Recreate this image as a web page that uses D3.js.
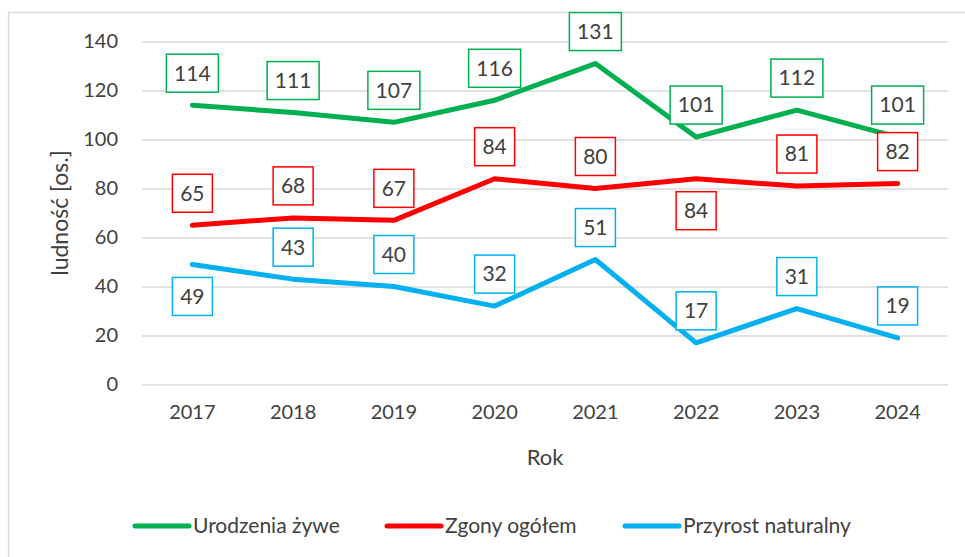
<!DOCTYPE html>
<html lang="pl">
<head>
<meta charset="utf-8">
<script src="https://cdn.jsdelivr.net/npm/d3@7"></script>
<style>
  html, body { margin: 0; padding: 0; background: #fff; }
  #chart { width: 965px; height: 557px; }
  text { font-family: Lato, "Open Sans", sans-serif; fill: #404040; }
</style>
</head>
<body>
<div id="chart"></div>
<script>
// dane
const YEARS = ["2017", "2018", "2019", "2020", "2021", "2022", "2023", "2024"];
const URODZENIA = [114, 111, 107, 116, 131, 101, 112, 101];
const ZGONY = [65, 68, 67, 84, 80, 84, 81, 82];
const PRZYROST = [49, 43, 40, 32, 51, 17, 31, 19];
const Y_TICKS = [0, 20, 40, 60, 80, 100, 120, 140];

// gdzie stoi etykieta: -1 nad punktem, 1 pod punktem
const POS_URODZENIA = [-1, -1, -1, -1, -1, -1, -1, -1];
const POS_ZGONY = [-1, -1, -1, -1, -1, 1, -1, -1];
const POS_PRZYROST = [1, -1, -1, -1, -1, -1, -1, -1];

const series = [
  { name: "Urodzenia żywe", values: URODZENIA, pos: POS_URODZENIA, color: "#00b050" },
  { name: "Zgony ogółem", values: ZGONY, pos: POS_ZGONY, color: "#ff0000" },
  { name: "Przyrost naturalny", values: PRZYROST, pos: POS_PRZYROST, color: "#00b0f0" }
];

const W = 965, H = 557;
const margin = { top: 41.5, right: 17, bottom: 172.5, left: 142 };
const width = W - margin.left - margin.right;
const height = H - margin.top - margin.bottom;

const svg = d3.select("#chart").append("svg")
  .attr("width", W)
  .attr("height", H);

// ramka
svg.append("rect")
  .attr("x", 8.5).attr("y", 12.5)
  .attr("width", 980).attr("height", 600)
  .attr("fill", "none")
  .attr("stroke", "#d9d9d9")
  .attr("stroke-width", 1.3);

const g = svg.append("g")
  .attr("transform", `translate(${margin.left},${margin.top})`);

const x = d3.scaleBand().domain(YEARS).range([0, width]);
const y = d3.scaleLinear().domain([0, 140]).range([height, 0]);

// siatka
g.append("g")
  .call(d3.axisLeft(y).tickValues(Y_TICKS).tickSize(-width).tickFormat(""))
  .call(a => a.select(".domain").remove())
  .selectAll("line")
  .attr("stroke", "#d9d9d9")
  .attr("stroke-width", 1.5);

// oś y
g.append("g")
  .call(d3.axisLeft(y).tickValues(Y_TICKS).tickSize(0).tickPadding(24))
  .call(a => a.select(".domain").remove())
  .selectAll("text")
  .style("font-family", "Lato, sans-serif")
  .attr("font-size", "20px")
  .attr("fill", "#595959");

// oś x
g.append("g")
  .attr("transform", `translate(0,${height})`)
  .call(d3.axisBottom(x).tickSize(0).tickPadding(20))
  .call(a => a.select(".domain").remove())
  .selectAll("text")
  .style("font-family", "Lato, sans-serif")
  .attr("font-size", "20px")
  .attr("fill", "#595959");

// tytuły osi
svg.append("text")
  .attr("x", 545).attr("y", 465)
  .attr("text-anchor", "middle")
  .attr("font-size", "22px")
  .attr("fill", "#595959")
  .text("Rok");

svg.append("text")
  .attr("transform", "translate(68,213) rotate(-90)")
  .attr("text-anchor", "middle")
  .attr("font-size", "23px")
  .attr("fill", "#595959")
  .text("ludność [os.]");

// linie
const line = d3.line()
  .x((d, i) => x(YEARS[i]) + x.bandwidth() / 2)
  .y(d => y(d));

series.forEach(s => {
  g.append("path")
    .datum(s.values)
    .attr("fill", "none")
    .attr("stroke", s.color)
    .attr("stroke-width", 5)
    .attr("stroke-linecap", "round")
    .attr("stroke-linejoin", "round")
    .attr("d", line);
});

// etykiety danych
series.forEach(s => {
  const lab = g.append("g").selectAll("g")
    .data(s.values)
    .enter().append("g")
    .attr("transform", (d, i) =>
      `translate(${x(YEARS[i]) + x.bandwidth() / 2},${y(d) + s.pos[i] * 32})`);

  lab.append("rect")
    .attr("x", d => String(d).length > 2 ? -26 : -20)
    .attr("y", -19)
    .attr("width", d => String(d).length > 2 ? 52 : 40)
    .attr("height", 38)
    .attr("fill", "#fff")
    .attr("stroke", s.color)
    .attr("stroke-width", 1.5);

  lab.append("text")
    .attr("text-anchor", "middle")
    .attr("dy", "0.35em")
    .attr("font-size", "21px")
    .text(d => d);
});

// legenda
const LEGEND_X = [133, 385, 623];
const leg = svg.append("g").selectAll("g")
  .data(series)
  .enter().append("g")
  .attr("transform", (d, i) => `translate(${LEGEND_X[i]},526)`);

leg.append("line")
  .attr("x1", 2).attr("x2", 56)
  .attr("stroke", d => d.color)
  .attr("stroke-width", 5)
  .attr("stroke-linecap", "round");

leg.append("text")
  .attr("x", 60)
  .attr("dy", "0.35em")
  .attr("font-size", "21px")
  .attr("fill", "#595959")
  .text(d => d.name);
</script>
</body>
</html>
